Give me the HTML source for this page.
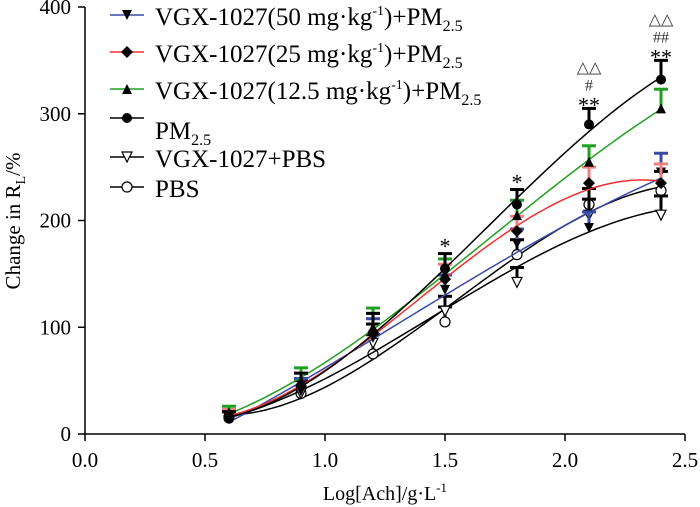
<!DOCTYPE html>
<html><head><meta charset="utf-8"><style>
body{margin:0;background:#fff}
svg{display:block;font-family:"Liberation Serif",serif}
</style></head><body>
<svg id="c" width="700" height="507" viewBox="0 0 700 507">
<g id="axes"></g><g id="plot"></g><g id="legend"></g>
<text x="385" y="500" font-size="20" text-anchor="middle">Log[Ach]/g·L<tspan dy="-8" font-size="13">-1</tspan></text>
<text transform="translate(20,221) rotate(-90)" font-size="21" text-anchor="middle">Change in R<tspan dy="5" font-size="14">L</tspan><tspan dy="-5">/%</tspan></text>
</svg>
<script>
const xs=[0.6,0.9,1.2,1.5,1.8,2.1,2.4];
const sPBS=[15,38,75,105,168,215,228];
const sVGXPBS=[15,38,85,115,142,205,205];
const sPM=[15,45,95,155,215,290,332];
const s50=[15,40,90,135,178,193,245];
const s25=[17,45,95,145,190,235,235];
const s125=[20,50,100,150,205,255,305];
const eBar=[6,12,18,14,14,15,18];
const xTicks=[0,0.5,1,1.5,2,2.5];
const xTickLabels=["0.0","0.5","1.0","1.5","2.0","2.5"];
const yTicks=[0,100,200,300,400];
const names=["VGX-1027(50 mg·kg","VGX-1027(25 mg·kg","VGX-1027(12.5 mg·kg","PM","VGX-1027+PBS","PBS"];
const X=v=>85+v*240, Y=v=>434-v*1.0675;
const NS="http://www.w3.org/2000/svg";
function mk(t,a,p){const e=document.createElementNS(NS,t);for(const k in a)e.setAttribute(k,a[k]);p.appendChild(e);return e;}
const ax=document.getElementById('axes'),pl=document.getElementById('plot'),lg=document.getElementById('legend');
let l=mk('line',{x1:85,y1:7,x2:85,y2:434,stroke:'#000','stroke-width':1.5},ax);

l=mk('line',{x1:85,y1:434,x2:685,y2:434,stroke:'#000','stroke-width':1.5},ax);

xTicks.forEach((v,i)=>{mk('line',{x1:X(v),y1:434,x2:X(v),y2:441,stroke:'#000','stroke-width':1.5},ax);
let t=mk('text',{x:X(v),y:467,'font-size':21,'text-anchor':'middle'},ax);t.textContent=xTickLabels[i];
});
yTicks.forEach(v=>{mk('line',{x1:78,y1:Y(v),x2:85,y2:Y(v),stroke:'#000','stroke-width':1.5},ax);
let t=mk('text',{x:71,y:Y(v)+7,'font-size':21,'text-anchor':'end'},ax);t.textContent=v;
});
function fit(d){const n=4,A=[],b=[];for(let i=0;i<n;i++){A.push(new Array(n).fill(0));b.push(0);}
xs.forEach((x,k)=>{for(let i=0;i<n;i++){b[i]+=d[k]*x**i;for(let j=0;j<n;j++)A[i][j]+=x**(i+j);}});
for(let i=0;i<n;i++){for(let r=i+1;r<n;r++){const f=A[r][i]/A[i][i];for(let j=i;j<n;j++)A[r][j]-=f*A[i][j];b[r]-=f*b[i];}}
const c=new Array(n).fill(0);for(let i=n-1;i>=0;i--){let s=b[i];for(let j=i+1;j<n;j++)s-=A[i][j]*c[j];c[i]=s/A[i][i];}return c;}
function curve(d){const c=fit(d);let s='';const x0=xs[0],x1=xs[xs.length-1];
for(let k=0;k<=60;k++){const x=x0+(x1-x0)*k/60;const y=c[0]+c[1]*x+c[2]*x*x+c[3]*x*x*x;s+=(k?'L':'M')+X(x).toFixed(1)+','+Y(y).toFixed(1);}return s;}
function marker(type,x,y,g){const r=5;
if(type==='tri-down')return mk('polygon',{points:`${x-r},${y-r} ${x+r},${y-r} ${x},${y+r}`,fill:'#000'},g);
if(type==='diamond')return mk('polygon',{points:`${x},${y-6} ${x+6},${y} ${x},${y+6} ${x-6},${y}`,fill:'#000'},g);
if(type==='tri-up')return mk('polygon',{points:`${x-r},${y+r} ${x+r},${y+r} ${x},${y-r}`,fill:'#000'},g);
if(type==='dot')return mk('circle',{cx:x,cy:y,r:5,fill:'#000'},g);
if(type==='tri-open')return mk('polygon',{points:`${x-r},${y-r} ${x+r},${y-r} ${x},${y+r}`,fill:'#fff',stroke:'#000','stroke-width':1.2},g);
return mk('circle',{cx:x,cy:y,r:5,fill:'#fff',stroke:'#000','stroke-width':1.2},g);}
const series=[
{d:sPBS,c:'#000',eb:'#000',m:'circle-open',n:'pbs'},
{d:sVGXPBS,c:'#000',eb:'#000',m:'tri-open',n:'vgx-pbs'},
{d:s50,c:'#3a4aa8',eb:'#3a4aa8',m:'tri-down',n:'vgx-50'},
{d:s25,c:'#f03030',eb:'#f08080',m:'diamond',n:'vgx-25'},
{d:s125,c:'#20a020',eb:'#20a020',m:'tri-up',n:'vgx-12-5'},
{d:sPM,c:'#000',eb:'#000',m:'dot',n:'pm25'}];
series.forEach(s=>{const g=mk('g',{},pl);
mk('path',{d:curve(s.d),fill:'none',stroke:s.c,'stroke-width':1.5},g);
s.d.forEach((v,i)=>{const x=X(xs[i]),y=Y(v),e=eBar[i]*1.0675;
mk('line',{x1:x,y1:y,x2:x,y2:y-e,stroke:s.eb,'stroke-width':3},g);
mk('line',{x1:x-7,y1:y-e,x2:x+7,y2:y-e,stroke:s.eb,'stroke-width':3},g);
const m=marker(s.m,x,y,g);});});
[[X(1.5),Y(sPM[3]+14)-8,'*'],[X(1.8),Y(sPM[4]+14)-8,'*'],[X(2.1),Y(sPM[5]+15)-4,'**'],[X(2.4),Y(sPM[6]+18)-4,'**']].forEach(a=>{
let t=mk('text',{x:a[0],y:a[1]+8,'font-size':22,'text-anchor':'middle'},pl);t.textContent=a[2];
});
[[X(2.1),Y(sPM[5]+15)-26,'#'],[X(2.4),Y(sPM[6]+18)-26,'##'],[X(2.1),Y(sPM[5]+15)-44,'△△'],[X(2.4),Y(sPM[6]+18)-44,'△△']].forEach(a=>{
let t=mk('text',{x:a[0],y:a[1]+8,'font-size':16,'text-anchor':'middle','fill':'#333'},pl);t.textContent=a[2];
});
const lc=['#3a4aa8','#f03030','#20a020','#000','#000','#000'],lm=['tri-down','diamond','tri-up','dot','tri-open','circle-open'];
const ly=[15,52,89,118,157,187];
names.forEach((n,i)=>{const g=mk('g',{},lg);
mk('line',{x1:110,y1:ly[i],x2:144,y2:ly[i],stroke:lc[i],'stroke-width':1.5},g);marker(lm[i],127,ly[i],g);
const t=mk('text',{x:155,y:ly[i]+10,'font-size':25},g);
if(i<3){t.innerHTML=n+'<tspan dy="-10" font-size="14">-1</tspan><tspan dy="10">)+PM</tspan><tspan dy="6" font-size="16">2.5</tspan>';}
else if(i===3){t.innerHTML='PM<tspan dy="6" font-size="16">2.5</tspan>';t.setAttribute('y',ly[i]+21);}
else t.textContent=n;});
</script>
</body></html>
